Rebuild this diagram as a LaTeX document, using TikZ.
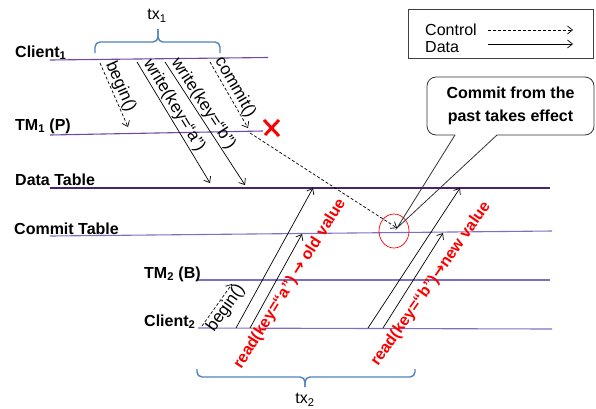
\documentclass[tikz,border=0pt]{standalone}
\usepackage{fontspec}
\setmainfont{Liberation Sans}
\newfontfamily\arrowfont{DejaVu Sans}
\usetikzlibrary{arrows.meta}
\definecolor{laneA}{RGB}{112,72,170}
\definecolor{laneB}{RGB}{72,36,110}
\definecolor{laneC}{RGB}{125,112,195}
\definecolor{bracecol}{RGB}{79,129,189}
\definecolor{hot}{RGB}{250,0,0}
\newcommand\bigarrow{{\arrowfont\bfseries →}}
\begin{document}
\begin{tikzpicture}[x=1pt,y=-1pt,
  lanelbl/.style={anchor=base west,inner sep=0pt,font=\fontsize{16}{19}\selectfont\bfseries},
  lanel/.style={draw=#1,line width=1.1pt},
  msg/.style={draw=black,line width=0.7pt,-{Straight Barb[length=5pt,width=8pt]}},
  ctl/.style={msg,dash pattern=on 3pt off 2pt},
  msglbl/.style={font=\fontsize{17}{20}\selectfont,inner sep=1pt,sloped},
  redlbl/.style={font=\fontsize{16}{19}\selectfont\bfseries,text=hot,inner sep=0pt},
  bracel/.style={draw=bracecol,line width=1.4pt,rounded corners=5pt},
  plain/.style={font=\fontsize{16}{19}\selectfont,inner sep=0pt}]
\useasboundingbox (0,0) rectangle (596,408);

% lanes
\coordinate (c1L) at (50,60);   \coordinate (c1R) at (268,57.5);
\coordinate (t1L) at (50,135);  \coordinate (t1R) at (263,131);
\coordinate (dtL) at (50,188);  \coordinate (dtR) at (550,188);
\coordinate (ctL) at (50,236);  \coordinate (ctR) at (552,231);
\coordinate (t2L) at (198,280); \coordinate (t2R) at (550,280);
\coordinate (c2L) at (198,328); \coordinate (c2R) at (552,329);
\draw[lanel=laneA] (c1L) -- (c1R);
\draw[lanel=laneA] (t1L) -- (t1R);
\draw[lanel=laneB] (dtL) -- (dtR);
\draw[lanel=laneC] (ctL) -- (ctR);
\draw[lanel=laneC] (t2L) -- (t2R);
\draw[lanel=laneC] (c2L) -- (c2R);
\node[lanelbl] (lc1) at (15,57) {Client\textsubscript{1}};
\node[lanelbl] (lt1) at (15,130) {TM\textsubscript{1} (P)};
\node[lanelbl] (ldt) at (15,185) {Data Table};
\node[lanelbl] (lct) at (14,234) {Commit Table};
\node[lanelbl] (lt2) at (144,278) {TM\textsubscript{2} (B)};
\node[lanelbl] (lc2) at (144,326) {Client\textsubscript{2}};

% tx1 messages
\coordinate (b1s) at (100,63);  \coordinate (b1e) at (128,127);
\coordinate (was) at (137,62);  \coordinate (wae) at (210,183);
\coordinate (wbs) at (165,62);  \coordinate (wbe) at (245,185);
\coordinate (cms) at (210,62);  \coordinate (cme) at (248,128);
\coordinate (lts) at (250,133); \coordinate (lte) at (397,228);
\draw[ctl] (b1s) -- node[msglbl,above,pos=0.43] (lb1) {begin()} (b1e);
\draw[msg] (was) -- node[msglbl,above,pos=0.4] (lwa) {write(key=“a”)} (wae);
\draw[msg] (wbs) -- node[msglbl,above,pos=0.38] (lwb) {write(key=“b”)} (wbe);
\draw[ctl] (cms) -- node[msglbl,above,pos=0.45] (lcm) {commit()} (cme);
\draw[ctl] (lts) -- (lte);

% crash mark
\coordinate (x1) at (264,120); \coordinate (x2) at (279,136);
\coordinate (x3) at (279,120); \coordinate (x4) at (265,135);
\draw[hot,line width=3pt] (x1) -- (x2) (x3) -- (x4);

% tx2 messages
\coordinate (b2s) at (202,326); \coordinate (b2e) at (232,284);
\coordinate (r1s) at (236,328); \coordinate (r1e) at (313,188);
\coordinate (r2s) at (250,328); \coordinate (r2e) at (302,234);
\coordinate (r3s) at (368,328); \coordinate (r3e) at (460,188);
\coordinate (r4s) at (383,328); \coordinate (r4e) at (443,233);
\draw[ctl] (b2s) -- node[msglbl,below,pos=0.55] (lb2) {begin()} (b2e);
\draw[msg] (r1s) -- (r1e);
\draw[msg] (r2s) -- (r2e);
\draw[msg] (r3s) -- (r3e);
\draw[msg] (r4s) -- (r4e);
\node[redlbl,rotate=58] (ra) at (290,284) {read(key=“a”) \bigarrow{} old value};
\node[redlbl,rotate=55] (rb) at (431,284) {read(key=“b”)\bigarrow{}new value};

% highlight ellipse
\draw[hot,line width=0.7pt] (394,231) ellipse [x radius=15,y radius=17];

% callout
\coordinate (wl) at (455,135); \coordinate (wr) at (497,135);
\draw[line width=0.8pt,draw=black!80,rounded corners=9pt] (wl) -- (427,135) -- (427,77) -- (594,77) -- (594,135) -- (wr);
\draw[line width=0.8pt,draw=black!80] (wl) -- (lte) -- (wr);
\node[font=\fontsize{16}{23}\selectfont\bfseries,align=center,inner sep=0pt] (callout) at (510.5,106) {Commit from the\\past takes effect};

% braces
\coordinate (tx1tip) at (158,29);
\draw[bracel] (95,53) |- (158,42) -- (tx1tip);
\draw[bracel] (220,53) |- (158,42) -- (tx1tip);
\node[plain] (tx1) at (157,16) {tx\textsubscript{1}};
\coordinate (tx2tip) at (305,387);
\draw[bracel] (197,369) |- (305,377) -- (tx2tip);
\draw[bracel] (415,369) |- (305,377) -- (tx2tip);
\node[plain] (tx2) at (305,400) {tx\textsubscript{2}};

% legend
\draw[line width=0.8pt,draw=black!75] (408,9) rectangle (593,58);
\node[plain,anchor=west] (lgc) at (425,30) {Control};
\node[plain,anchor=west] (lgd) at (425,47) {Data};
\coordinate (lg1s) at (488,30); \coordinate (lg1e) at (573,30);
\coordinate (lg2s) at (488,44); \coordinate (lg2e) at (573,44);
\draw[ctl] (lg1s) -- (lg1e);
\draw[msg] (lg2s) -- (lg2e);
\end{tikzpicture}
\end{document}
